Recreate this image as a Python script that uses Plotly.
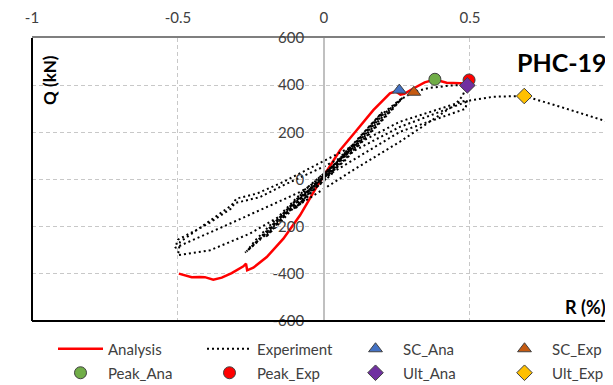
import plotly.graph_objects as go

# ---------------- data ----------------
ana_r = [-0.497, -0.453, -0.425, -0.408, -0.379, -0.350, -0.316, -0.276, -0.267, -0.263,
         -0.242, -0.196, -0.139, -0.082, -0.025, 0.055, 0.112, 0.169, 0.226, 0.245,
         0.262, 0.275, 0.306, 0.345, 0.380, 0.420, 0.466, 0.490]
ana_q = [-399, -414, -413, -414, -425, -416, -397, -368, -357, -385,
         -374, -329, -251, -152, -31, 124, 209, 294, 365, 374,
         360, 363, 386, 412, 424, 410, 408, 406]

exp_r = [0.0, 0.05, 0.1, 0.06, 0.02, -0.05, -0.1, -0.06, -0.02,
         0.05, 0.1, 0.065, 0.025, -0.05, -0.1, -0.065, -0.025,
         0.1, 0.2, 0.16, 0.04, -0.1, -0.2, -0.16, -0.04,
         0.1, 0.2, 0.165, 0.045, -0.1, -0.2, -0.165, -0.045,
         0.1, 0.2, 0.27, 0.23, 0.06, -0.1, -0.2, -0.27, -0.23, -0.06,
         0.1, 0.2, 0.268, 0.235, 0.065, -0.1, -0.2, -0.265, -0.235, -0.065,
         0.1, 0.2, 0.27, 0.308, 0.36, 0.43, 0.49,
         0.475, 0.45, 0.26, 0.1, -0.105, -0.253, -0.39, -0.5,
         -0.493, -0.39, -0.316, -0.30, -0.23, -0.139, 0.0, 0.26, 0.49,
         0.485, 0.26, 0.1, -0.082, -0.3, -0.51,
         -0.5, -0.4, -0.32, -0.305, -0.22, -0.14, 0.0, 0.26, 0.5, 0.58, 0.686, 0.8, 0.99, 1.02]
exp_q = [0, 80, 150, 100, 20, -62, -125, -80, -18,
         75, 145, 98, 20, -58, -122, -78, -18,
         150, 285, 232, 60, -105, -245, -195, -35,
         145, 282, 230, 60, -100, -242, -192, -35,
         140, 278, 348, 295, 70, -95, -235, -310, -262, -40,
         135, 272, 345, 298, 72, -92, -230, -305, -258, -42,
         130, 265, 345, 372, 388, 398, 402,
         355, 318, 160, 40, -123, -229, -300, -321,
         -265, -173, -109, -81, -60, -10, 80, 245, 337,
         300, 202, 83, -53, -175, -290,
         -255, -190, -125, -100, -75, -25, 55, 223, 335, 351, 354, 312, 238, 228]

marker_names = ["SC_Ana", "SC_Exp", "Peak_Ana", "Peak_Exp", "Ult_Ana", "Ult_Exp"]
marker_r = [0.258, 0.308, 0.380, 0.497, 0.491, 0.686]
marker_q = [379, 370, 425, 422, 399, 354]
marker_symbols = ["triangle-up", "triangle-up", "circle", "circle", "diamond", "diamond"]
marker_colors = ["#4472C4", "#C55A11", "#70AD47", "#FF0000", "#7030A0", "#FFC000"]
marker_legends = ["legend2", "legend2", "legend3", "legend3", "legend4", "legend4"]

x_tickvals = [-1, -0.5, 0, 0.5]
x_ticktext = ["-1", "-0.5", "0", "0.5"]
y_tickvals = [-600, -400, -200, 0, 200, 400, 600]
y_ticktext = ["-600", "-400", "-200", "0", "200", "400", "600"]

FONT = "Lato"
TXT = "#404040"

fig = go.Figure()
fig.add_trace(go.Scatter(x=ana_r, y=ana_q, mode="lines", name="Analysis",
                         line=dict(color="#FF0000", width=2.5), legend="legend"))
fig.add_trace(go.Scatter(x=exp_r, y=exp_q, mode="lines", name="Experiment",
                         line=dict(color="#000000", width=2, dash="2px,3px"), legend="legend"))
for i, nm in enumerate(marker_names):
    fig.add_trace(go.Scatter(
        x=[marker_r[i]], y=[marker_q[i]], mode="markers", name=nm,
        marker=dict(symbol=marker_symbols[i], color=marker_colors[i], size=12,
                    line=dict(color="#404040", width=1)),
        legend=marker_legends[i]))

# the page body has an 8px margin: figure spans screen 8..613 x 8..385
W, H = 605, 377
L, R, T, B = 24, 0, 30, 64
leg_common = dict(orientation="h", xref="container", yref="container",
                  xanchor="left", yanchor="middle",
                  entrywidth=89, entrywidthmode="pixels", itemwidth=45,
                  font=dict(family=FONT, size=15, color=TXT),
                  bgcolor="rgba(0,0,0,0)", traceorder="normal")
row1_y = 1 - (349 - 8) / H
row2_y = 1 - (373 - 8) / H
col1_x = (53 - 8) / W
col3_x = (348 - 8) / W
fig.update_layout(
    width=W, height=H,
    margin=dict(l=L, r=R, t=T, b=B, autoexpand=False),
    plot_bgcolor="white", paper_bgcolor="white",
    font=dict(family=FONT, size=15, color=TXT),
    showlegend=True,
    legend=dict(x=col1_x, y=row1_y, **leg_common),
    legend2=dict(x=col3_x, y=row1_y, **leg_common),
    legend3=dict(x=col1_x, y=row2_y, **leg_common),
    legend4=dict(x=col3_x, y=row2_y, **leg_common),
    xaxis=dict(range=[-1, 0.99], side="top", tickvals=x_tickvals, ticktext=x_ticktext,
               showline=True, linecolor="#7f7f7f", linewidth=1.5,
               showgrid=True, gridcolor="#c8c8c8", griddash="4px,3px", gridwidth=1,
               zeroline=False, ticks="", ticklabelstandoff=7,
               tickfont=dict(family=FONT, size=15, color=TXT)),
    yaxis=dict(range=[-600, 600], tickvals=y_tickvals, ticktext=y_ticktext,
               anchor="free", position=1 / 1.99,
               showline=True, linecolor="#c0c0c0", linewidth=1.5,
               showgrid=True, gridcolor="#c8c8c8", griddash="4px,3px", gridwidth=1,
               zeroline=False, ticks="", ticklabelstandoff=16,
               tickfont=dict(family=FONT, size=15, color=TXT)),
)

# black left / bottom plot borders
fig.add_shape(type="line", xref="paper", yref="paper", x0=0, x1=0, y0=0, y1=1,
              line=dict(color="#000000", width=2))
fig.add_shape(type="line", xref="paper", yref="paper", x0=0, x1=1, y0=0, y1=0,
              line=dict(color="#000000", width=2))

fig.add_annotation(text="<b>PHC-19</b>", xref="paper", yref="paper",
                   x=0.993, y=0.915, xanchor="right", yanchor="middle", showarrow=False,
                   font=dict(family=FONT, size=25, color="#000000"))
fig.add_annotation(text="<b>Q (kN)</b>", xref="paper", yref="paper", textangle=-90,
                   x=0.031, y=0.852, xanchor="center", yanchor="middle", showarrow=False,
                   font=dict(family=FONT, size=17, color="#000000"))
fig.add_annotation(text="<b>R (%)</b>", xref="paper", yref="paper",
                   x=0.991, y=0.049, xanchor="right", yanchor="middle", showarrow=False,
                   font=dict(family=FONT, size=18, color="#000000"))

fig.write_html("out.html")
